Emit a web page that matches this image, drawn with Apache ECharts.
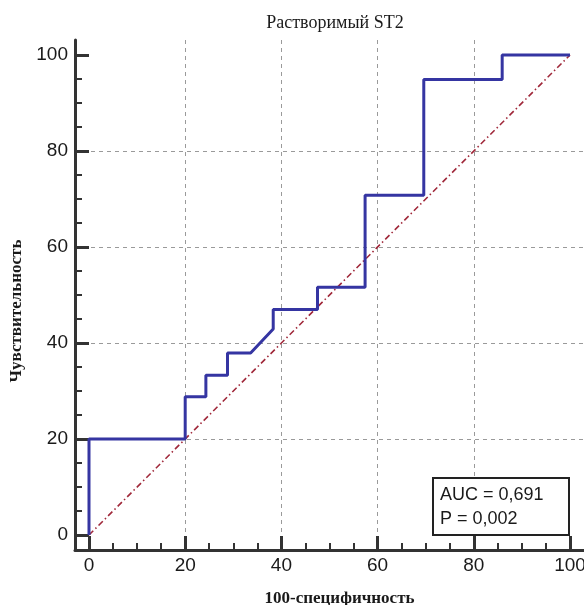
<!DOCTYPE html>
<html>
<head>
<meta charset="utf-8">
<title>ROC</title>
<script src="https://cdn.jsdelivr.net/npm/echarts@6/dist/echarts.min.js"></script>
<style>
  html, body { margin: 0; padding: 0; background: #fff; }
  #chart { width: 584px; height: 605px; }
</style>
</head>
<body>
<div id="chart"></div>
<script>
// ROC curve points (100-specificity, sensitivity), in %
const fprValues = [0, 0, 20, 20, 24.3, 24.3, 28.8, 28.8, 33.6, 38.3, 38.3, 47.5, 47.5, 57.4, 57.4, 69.6, 69.6, 85.9, 85.9, 100]
const tprValues = [0, 20, 20, 28.8, 28.8, 33.3, 33.3, 37.9, 37.9, 42.9, 47, 47, 51.6, 51.6, 70.8, 70.8, 94.9, 94.9, 100, 100]
const refLineX = [0, 100]
const refLineY = [0, 100]
const majorTicks = [0, 20, 40, 60, 80, 100]
const minorTicks = [5, 10, 15, 25, 30, 35, 45, 50, 55, 65, 70, 75, 85, 90, 95]
const aucText = 'AUC = 0,691'
const pText = 'P = 0,002'

const theme = {
  axis: '#333',
  grid: '#9a9a9a',
  curve: '#3535a2',
  diag: '#a0283a',
  text: '#1a1a1a'
}

const chart = echarts.init(document.getElementById('chart'))

const rocData = fprValues.map((x, i) => [x, tprValues[i]])
const diagData = refLineX.map((x, i) => [x, refLineY[i]])

// the axis lines sit a bit outside of the 0..100 frame, as in the original
const xMin = -2.91, xMax = 102.91
const yMin = -3.125, yMax = 103.125

const serifName = { fontFamily: 'Liberation Serif, Times New Roman', fontWeight: 'bold', fontSize: 17, color: theme.text }

const majorAxis = (extra) => Object.assign({
  type: 'value',
  gridIndex: 0,
  axisLine: { show: true, onZero: false, lineStyle: { color: theme.axis, width: 3 } },
  axisTick: { show: true, inside: true, length: 14, customValues: majorTicks, lineStyle: { color: theme.axis, width: 3 } },
  splitLine: { show: true, showMinLine: false, showMaxLine: false, lineStyle: { color: theme.grid, type: [4, 4], width: 1 } },
  nameLocation: 'middle'
}, extra)

// second grid on the same spot, only for the small ticks
const minorAxis = (extra) => Object.assign({
  type: 'value',
  gridIndex: 1,
  axisLine: { show: false, onZero: false },
  axisTick: { show: true, inside: true, length: 7, customValues: minorTicks, lineStyle: { color: theme.axis, width: 2 } },
  axisLabel: { show: false },
  splitLine: { show: false }
}, extra)

const gridBox = { left: 75, right: 0, top: 40, bottom: 55, containLabel: false, outerBoundsMode: 'none' }

chart.setOption({
  animation: false,
  title: [
    {
      text: 'Растворимый ST2',
      left: 330,
      top: 9,
      textAlign: 'center',
      textStyle: { fontFamily: 'Liberation Serif, Times New Roman', fontWeight: 'normal', fontSize: 18, color: theme.text }
    },
    {
      text: aucText + '\n' + pText,
      left: 433,
      top: 478,
      padding: [5, 26, 4, 7],
      borderColor: '#222',
      borderWidth: 2,
      backgroundColor: '#fff',
      textStyle: { fontFamily: 'Liberation Sans, Arial', fontWeight: 'normal', fontSize: 18, lineHeight: 24, color: theme.text }
    }
  ],
  grid: [gridBox, Object.assign({}, gridBox)],
  xAxis: [
    majorAxis({
      min: xMin, max: xMax, position: 'bottom',
      name: '100-специфичность', nameGap: 40,
      axisLabel: { customValues: majorTicks, color: theme.text, fontSize: 19, margin: 6, fontFamily: 'Liberation Sans, Arial' },
      nameTextStyle: Object.assign({ padding: [0, 0, 0, 20] }, serifName)
    }),
    minorAxis({ min: xMin, max: xMax, position: 'bottom' })
  ],
  yAxis: [
    majorAxis({
      min: yMin, max: yMax, position: 'left',
      name: 'Чувствительность', nameGap: 46,
      axisLabel: { customValues: majorTicks, color: theme.text, fontSize: 19, margin: 7, fontFamily: 'Liberation Sans, Arial' },
      nameTextStyle: Object.assign({ padding: [0, 32, 0, 0] }, serifName)
    }),
    minorAxis({ min: yMin, max: yMax, position: 'left' })
  ],
  series: [
    {
      name: 'diag',
      type: 'line',
      data: diagData,
      showSymbol: false,
      lineStyle: { color: theme.diag, width: 1.6, type: [6, 3, 1.5, 3] },
      z: 2
    },
    {
      name: 'roc',
      type: 'line',
      data: rocData,
      showSymbol: false,
      lineStyle: { color: theme.curve, width: 3 },
      z: 3
    }
  ]
})
</script>
</body>
</html>
